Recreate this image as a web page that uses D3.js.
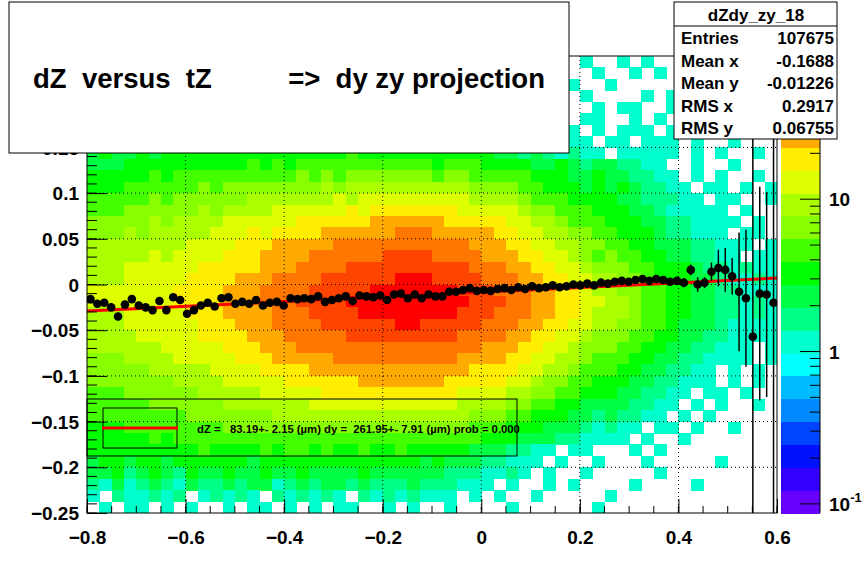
<!DOCTYPE html>
<html>
<head>
<meta charset="utf-8">
<script src="https://cdn.jsdelivr.net/npm/d3@7"></script>
<style>
  body { margin: 0; background: #fff; }
  text { font-family: "Liberation Sans", Arial, sans-serif; }
</style>
</head>
<body>
<svg id="chart"></svg>
<script>
// palette, bottom (lowest) to top
const paletteColors = ["#6600ff","#3300ff","#0011ff","#0044ff","#0088ff","#00bbff","#00ffff","#00ffcc",
  "#00ff88","#00ff44","#00ff00","#44ff00","#88ff00","#aaff00","#ddff00","#ffee00",
  "#ffaa00","#ff7700","#ff4400","#ff0000"];
const levelChars = "0123456789abcdefghij";

// 2D histogram: palette level per cell (spaces are only for reading)
// rows from y=0.25 down in steps of 0.0125, 56 cols from x=-0.8 in steps of 0.025
const cellRows = [
  "9999 9999 9999 9999 9999 9999 9999 9999 9999 .7.. 7..7 .7.. .... 7...",
  "9999 9999 9999 9999 9999 9999 9999 9999 9999 7... .7.. 7.7. ..7. ....",
  "9999 9999 9999 9999 9999 9999 9999 9999 999. .7.7 ..7. .... 7... ..7.",
  "9999 9999 9999 9999 9999 9999 9999 9999 9998 7.7. 7... .7.7 .... ....",
  "9999 9999 9999 9999 9999 9999 9999 9999 9987 .77. .7.7 7..7 ..7. 7...",
  "9999 9999 9999 9999 9999 9999 9999 aaa9 9877 7.7. 77.. 7.7. .7.. ..7.",
  "9999 9999 9999 9999 9999 9999 aaaa aaa9 9877 7877 .7.7 77.7 7... .7..",
  "9999 9999 aaaa aaaa aaaa aaaa aaaa aaa9 9987 8777 7.77 .777 .7.. 7...",
  "9a99 a9aa aaaa aaaa aaaa abaa aaaa aaaa a998 9878 77.7 7777 .7.7 ..7.",
  "99 9aaa aaaa aaab abab bbbb bbbb bbab bbaa aa99 a989 98 877. .7.. 7...",
  "aa aaab abbb bbbb bbbc bcbc cccc ccbc cbbb bbaa a99a 99 8877 .7.7 ..7.",
  "aa abbb bbbc bccc cccc cdcd dddd dddd dccc cbba aa9a 9a 9887 7.77 .7.7",
  "bb bbbc bccc cccd dddd dded eeee eeee eddd dcbb baaa a9 9888 77.7 7..7",
  "bb bccc cccd cddd deee eeef efff ffff eeee edcc bbba aa 9987 7777 .7..",
  "cc cccd cddd deee eeef ffff fggg gggf ffff eedd cbbb aa a998 8777 7.7.",
  "cc cdcd dddd eeef efff fggg gggh hhgg gggf feed dccb ba aa98 8777 .77.",
  "dd dddd ddee eeff fggg gghh hhhh hhhh hggg ffee ddcc bb aa99 9887 77.7",
  "dd ddde deee efff gggg hhhh hhii iihh hhgg gffe edcb cb baa9 9887 7.77",
  "dd deee eeef ffff gggh hhhi iiii iiii ihhh ggff eedc cc bbaa a988 7877",
  "dd deee eeff ffgg ghhh hiii iiij jjii iihh hggf feed dc cbaa a998 7787",
  "ee eeee efff fggg hhhh iiii ijjj jjjj iiih hhgg ffed dc cbba a998 8777",
  "ee eeee efff fggg hhhi iiij jjjj jjjj jiii hhgg ffee dd cbba a998 8787",
  "dd deee eeff fggg ghhh iiii jjjj jjjj iiih hhgg ffed dd cbba a998 8787",
  "dd deee eeef ffgg ghhh hiii iiij jiii iihh hggf feed dc cbba 9998 7777",
  "dd ddee eeef fffg gghh hhhi iiii iiii hhhh ggff eedc cc bbaa 9988 7777",
  "dd dddd eeee efff gggh hhhh hhhh hhhh hhgg gffe edcc cb baa9 9887 77.7",
  "cc cddd deee eeff fggg gghh hhhh hhhh gggg ffee ddcb bb aa99 8877 77.7",
  "cc cccd dddd eeee ffff gggg gggg gggg gfff feed dcbb ba a998 877. 7.7.",
  "cc cccc cddd deee eeff ffff gggg gggf ffff eedc cbba aa 9988 777. 7.7.",
  "bb bccc cccd dddd eeee efff ffff ffff eeee ddcc bbaa a9 9887 7.77 .7..",
  "bb bbbc cccc cddd dddd eeee eeee eeee dddd ccbb aa99 99 8877 .7.7 ..7.",
  "bb bbbb bbcc cccc cddd dddd dddd dddd dccc bbaa a998 98 877. 7.7. ....",
  "aa abbb bbbb bccc cccc cccc cccc cccc cbbb aaa9 9987 87 7.77 .7.. 7...",
  "aa aaab abbb bbbb bbbb bbbb bbbb bbbb bbaa a999 8877 77 .7.. 7... ....",
  "aaaa aaaa abaa aaba bbab aaba abaa aaa9 9988 77.7 7... 7.7. .... ....",
  "9aa9 aa9a aaaa a9aa aaaa aaaa aaa9 a999 8877 7.7. .7.. .7.. ...7 ....",
  "99a8 9a98 a99a 99a9 9a99 99a9 9999 9888 7787 .7.. 7... ..7. .... ....",
  "8797 8987 9889 8997 8989 9898 8898 8877 7.7. .7.7 .... 7... .7.. ....",
  "7.87 7878 .787 87.8 7878 7.87 8787 77.7 .7.. 7... ..7. .... .... ....",
  ".7.7 7.7. 7..7 .77. 7.7. 77.. 7.7. .7.. ..7. .... .7.. .... .... ...."
];

// profile (mean dy per bin), 100 bins over x
const profileMean = [
  -0.016,-0.021,-0.020,-0.025,-0.035,-0.022,-0.016,-0.023,-0.025,-0.028,
  -0.018,-0.028,-0.014,-0.017,-0.032,-0.028,-0.023,-0.020,-0.024,-0.015,
  -0.014,-0.021,-0.019,-0.021,-0.017,-0.023,-0.020,-0.019,-0.023,-0.015,
  -0.016,-0.015,-0.016,-0.013,-0.019,-0.017,-0.015,-0.013,-0.018,-0.012,
  -0.013,-0.014,-0.012,-0.017,-0.011,-0.010,-0.015,-0.011,-0.015,-0.011,
  -0.013,-0.013,-0.008,-0.008,-0.006,-0.004,-0.007,-0.006,-0.007,-0.005,
  -0.004,-0.006,-0.003,-0.005,-0.002,-0.004,-0.003,-0.001,-0.003,-0.002,
   0.000,-0.001, 0.001,-0.001, 0.002, 0.001, 0.003, 0.004, 0.003, 0.005,
   0.006, 0.004, 0.006, 0.005, 0.003, 0.004, 0.002, 0.016, 0.000, 0.002,
   0.014, 0.018, 0.016, 0.009,-0.008,-0.015,-0.057,-0.010,-0.011,-0.020
];
const profileErr = [
  0.004,0.004,0.004,0.004,0.004,0.004,0.004,0.003,0.003,0.003,
  0.003,0.003,0.003,0.003,0.003,0.003,0.003,0.003,0.003,0.003,
  0.003,0.003,0.003,0.003,0.003,0.003,0.003,0.003,0.003,0.003,
  0.003,0.003,0.003,0.003,0.003,0.003,0.003,0.003,0.003,0.003,
  0.003,0.003,0.003,0.003,0.003,0.003,0.003,0.003,0.003,0.003,
  0.003,0.003,0.003,0.003,0.003,0.003,0.003,0.003,0.003,0.003,
  0.003,0.003,0.003,0.003,0.003,0.003,0.003,0.003,0.003,0.003,
  0.003,0.003,0.003,0.003,0.003,0.003,0.003,0.003,0.003,0.003,
  0.003,0.003,0.003,0.004,0.004,0.004,0.005,0.006,0.008,0.006,
  0.010,0.020,0.024,0.020,0.065,0.075,0.300,0.117,0.112,0.300
];

const fitX = [-0.8, 0.6];
const fitY = [-0.029, 0.007];

const xTicks = [-0.8,-0.6,-0.4,-0.2,0,0.2,0.4,0.6];
const yTicks = [-0.25,-0.2,-0.15,-0.1,-0.05,0,0.05,0.1,0.15];
const statsName = "dZdy_zy_18";
const statsRows = [["Entries","107675"],["Mean x","-0.1688"],["Mean y","-0.01226"],["RMS x","0.2917"],["RMS y","0.06755"]];
const titleText = "dZ  versus  tZ          =>  dy zy projection";
const fitText = "dZ =   83.19+- 2.15 (\u00b5m) dy =  261.95+- 7.91 (\u00b5m) prob = 0.000";

const W = 863, H = 571;
const svg = d3.select("#chart").attr("width", W).attr("height", H);
const x = d3.scaleLinear().domain([-0.8, 0.6]).range([87, 777]);
const y = d3.scaleLinear().domain([-0.25, 0.25]).range([513, 56]);
const z = d3.scaleLog().domain([0.0871, 87.1]).range([513, 56]);

const plot = svg.append("g");
svg.append("clipPath").attr("id", "clip")
  .append("rect").attr("x", 87).attr("y", 56).attr("width", 690).attr("height", 457);

// cells
const dx = 0.025, dy = 0.0125;
const cells = [];
cellRows.forEach((row, r) => {
  row.replace(/ /g, "").split("").forEach((c, k) => {
    const lev = levelChars.indexOf(c);
    if (lev >= 0) cells.push({x0: -0.8 + dx * k, y1: 0.25 - dy * r, lev: lev});
  });
});
plot.append("g").attr("shape-rendering", "crispEdges").attr("clip-path", "url(#clip)")
  .selectAll("rect").data(cells).enter()
  .append("rect")
  .attr("x", d => x(d.x0)).attr("y", d => y(d.y1))
  .attr("width", d => x(d.x0 + dx) - x(d.x0) + 0.5)
  .attr("height", d => y(d.y1 - dy) - y(d.y1) + 0.5)
  .attr("fill", d => paletteColors[d.lev]);

// grid
const grid = plot.append("g").attr("stroke", "#000").attr("stroke-dasharray", "1,3").attr("stroke-width", 1);
xTicks.slice(1, -1).forEach(t => grid.append("line").attr("x1", x(t)).attr("x2", x(t)).attr("y1", 56).attr("y2", 513));
yTicks.slice(1).forEach(t => grid.append("line").attr("x1", 87).attr("x2", 777).attr("y1", y(t)).attr("y2", y(t)));

// fit line
plot.append("line").attr("x1", x(fitX[0])).attr("y1", y(fitY[0])).attr("x2", x(fitX[1])).attr("y2", y(fitY[1]))
  .attr("stroke", "#ff0000").attr("stroke-width", 3);

// profile
const prof = plot.append("g").attr("clip-path", "url(#clip)");
const binW = 1.4 / 100;
profileMean.forEach((m, i) => {
  const cx = x(-0.8 + (i + 0.5) * binW);
  prof.append("line").attr("x1", cx).attr("x2", cx)
    .attr("y1", y(m + profileErr[i])).attr("y2", y(m - profileErr[i]))
    .attr("stroke", "#000").attr("stroke-width", 1.5);
  prof.append("circle").attr("cx", cx).attr("cy", y(m)).attr("r", 4.3).attr("fill", "#000");
});

// fit legend box
svg.append("rect").attr("x", 87).attr("y", 399).attr("width", 430).attr("height", 57)
  .attr("fill", "none").attr("stroke", "#000");
svg.append("rect").attr("x", 103).attr("y", 408).attr("width", 74).attr("height", 40)
  .attr("fill", "none").attr("stroke", "#000");
svg.append("line").attr("x1", 102).attr("x2", 178).attr("y1", 428).attr("y2", 428)
  .attr("stroke", "#ff0000").attr("stroke-width", 3);
svg.append("text").attr("x", 197).attr("y", 433).attr("font-size", 11.3).attr("font-weight", "bold")
  .attr("xml:space", "preserve").style("white-space", "pre").text(fitText);

// frame and axes
svg.append("rect").attr("x", 87).attr("y", 56).attr("width", 690).attr("height", 457)
  .attr("fill", "none").attr("stroke", "#000");
const xAxis = svg.append("g").attr("transform", "translate(0,513)")
  .call(d3.axisBottom(x).tickValues(xTicks).tickSize(-14).tickPadding(18).tickFormat(d3.format("")));
xAxis.selectAll("line").attr("stroke", "#000");
xAxis.select(".domain").remove();
const xMinor = d3.range(-0.8, 0.6001, 0.05).map(v => +v.toFixed(2));
svg.append("g").selectAll("line").data(xMinor).enter().append("line")
  .attr("x1", d => x(d)).attr("x2", d => x(d)).attr("y1", 513).attr("y2", 506).attr("stroke", "#000");
xAxis.selectAll("text").attr("font-size", 19).attr("font-weight", "bold").attr("fill", "#000");

const yAxis = svg.append("g").attr("transform", "translate(87,0)")
  .call(d3.axisLeft(y).tickValues(yTicks).tickSize(-20).tickPadding(8).tickFormat(d3.format("")));
yAxis.select(".domain").remove();
yAxis.selectAll("line").attr("stroke", "#000");
yAxis.selectAll("text").attr("font-size", 19).attr("font-weight", "bold").attr("fill", "#000").attr("dy", "0.35em");
const yMinor = d3.range(-0.25, 0.2501, 0.01).map(v => +v.toFixed(2));
svg.append("g").selectAll("line").data(yMinor).enter().append("line")
  .attr("x1", 87).attr("x2", 97).attr("y1", d => y(d)).attr("y2", d => y(d)).attr("stroke", "#000");

// palette
const pal = svg.append("g").attr("shape-rendering", "crispEdges");
paletteColors.forEach((c, i) => {
  const h = 457 / paletteColors.length;
  pal.append("rect").attr("x", 781).attr("y", 513 - (i + 1) * h).attr("width", 39).attr("height", h + 0.5).attr("fill", c);
});
svg.append("line").attr("x1", 820).attr("x2", 820).attr("y1", 56).attr("y2", 513).attr("stroke", "#000");
const zMinor = [];
[0.1, 1, 10].forEach(b => [1,2,3,4,5,6,7,8,9].forEach(m => { const v = b * m; if (v >= 0.0871 && v <= 87.1) zMinor.push(v); }));
svg.append("g").selectAll("line").data(zMinor).enter().append("line")
  .attr("x1", d => [0.1, 1, 10].includes(d) ? 800 : 810).attr("x2", 820)
  .attr("y1", d => z(d)).attr("y2", d => z(d)).attr("stroke", "#000");
svg.append("text").attr("x", 829).attr("y", z(10) + 7).attr("font-size", 19).attr("font-weight", "bold").text("10");
svg.append("text").attr("x", 829).attr("y", z(1) + 7).attr("font-size", 19).attr("font-weight", "bold").text("1");
const tm = svg.append("text").attr("x", 829).attr("y", z(0.1) + 7).attr("font-size", 19).attr("font-weight", "bold");
tm.append("tspan").text("10");
tm.append("tspan").attr("dy", -9).attr("font-size", 13).text("-1");

// title box
svg.append("rect").attr("x", 9).attr("y", 2).attr("width", 560).attr("height", 151)
  .attr("fill", "#fff").attr("stroke", "#000");
svg.append("text").attr("x", 33).attr("y", 88).attr("font-size", 27.5).attr("font-weight", "bold")
  .attr("xml:space", "preserve").style("white-space", "pre").text(titleText);

// stats box
const sb = svg.append("g");
sb.append("rect").attr("x", 674).attr("y", 2).attr("width", 163).attr("height", 137).attr("fill", "#fff").attr("stroke", "#000");
sb.append("line").attr("x1", 674).attr("x2", 837).attr("y1", 26).attr("y2", 26).attr("stroke", "#000");
sb.append("text").attr("x", 756).attr("y", 21).attr("text-anchor", "middle").attr("font-size", 17).attr("font-weight", "bold").text(statsName);
statsRows.forEach((r, i) => {
  const yy = 44 + i * 22.6;
  sb.append("text").attr("x", 681).attr("y", yy).attr("font-size", 17).attr("font-weight", "bold").text(r[0]);
  sb.append("text").attr("x", 834).attr("y", yy).attr("text-anchor", "end").attr("font-size", 17).attr("font-weight", "bold").text(r[1]);
});
</script>
</body>
</html>
